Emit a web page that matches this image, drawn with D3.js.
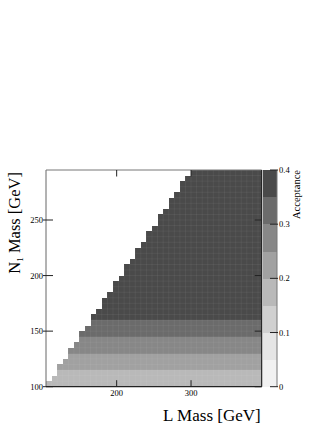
<!DOCTYPE html>
<html>
<head>
<meta charset="utf-8">
<script src="https://cdn.jsdelivr.net/npm/d3@7"></script>
<style>
  body { margin: 0; background: #fff; }
  svg { display: block; }
</style>
</head>
<body>
<div id="chart"></div>
<script>
var width = 332;
var height = 430;

// N1 mass rows (lower bin edge, GeV), 5 GeV wide
var n1Rows = [100, 105, 110, 115, 120, 125, 130, 135, 140, 145, 150, 155, 160, 165, 170, 175, 180,
    185, 190, 195, 200, 205, 210, 215, 220, 225, 230, 235, 240, 245, 250, 255, 260, 265, 270,
    275, 280, 285, 290];
// first L mass with a point in each row (edge of the staircase)
var rowStart = [105, 112.5, 120, 120, 127.5, 135, 135, 142.5, 150, 150, 157.5, 165, 165, 172.5,
    180, 180, 187.5, 195, 195, 202.5, 210, 210, 217.5, 225, 225, 232.5, 240, 240, 247.5, 255,
    255, 262.5, 270, 270, 277.5, 285, 285, 292.5, 300];
// acceptance for each row
var acceptance = [0.17, 0.18, 0.18, 0.21, 0.22, 0.23, 0.26, 0.27, 0.28, 0.31, 0.32, 0.33,
    0.36, 0.36, 0.37, 0.37, 0.37, 0.37, 0.38, 0.38, 0.38, 0.38, 0.38, 0.38, 0.38, 0.38, 0.38,
    0.38, 0.38, 0.38, 0.38, 0.38, 0.38, 0.38, 0.38, 0.38, 0.38, 0.38, 0.38];
var rowHeight = 5;
var lMassMax = 395;

var xTicks = [200, 300];
var yTicks = [100, 150, 200, 250];
var zTicks = [0, 0.1, 0.2, 0.3, 0.4];
var zLevels = [0.05, 0.1, 0.15, 0.2, 0.25, 0.3, 0.35];
var grays = ["#f1f1f1", "#e5e5e5", "#d0d0d0", "#b9b9b9", "#a1a1a1", "#878787", "#6b6b6b", "#4a4a4a"];

var plot = {left: 46, right: 261.7, top: 170, bottom: 386.7};
var bar = {left: 262.5, right: 277};
var serif = "'Liberation Serif', 'Times New Roman', 'DejaVu Serif', serif";

var x = d3.scaleLinear().domain([105, lMassMax]).range([plot.left, plot.right]);
var y = d3.scaleLinear().domain([100, 295]).range([plot.bottom, plot.top]);
var z = d3.scaleLinear().domain([0, 0.4]).range([plot.bottom, plot.top]);
var color = d3.scaleThreshold().domain(zLevels).range(grays);

var svg = d3.select("#chart").append("svg")
    .attr("width", width)
    .attr("height", height)
    .attr("font-family", serif);

var rows = n1Rows.map((m, i) => ({n1: m, start: rowStart[i], acc: acceptance[i]}));

// heat map rows
svg.append("g").selectAll("rect").data(rows)
    .enter().append("rect")
    .attr("x", d => x(d.start))
    .attr("y", d => y(d.n1 + rowHeight))
    .attr("width", d => x(lMassMax) - x(d.start))
    .attr("height", d => y(d.n1) - y(d.n1 + rowHeight) + 0.3)
    .attr("fill", d => color(d.acc))
    .attr("shape-rendering", "crispEdges");

// faint seams between cells
var seams = svg.append("g").attr("stroke", "#fff").attr("stroke-opacity", 0.07).attr("stroke-width", 0.8);
seams.selectAll("line.h").data(rows.slice(1))
    .enter().append("line")
    .attr("x1", d => x(d.start)).attr("x2", plot.right)
    .attr("y1", d => y(d.n1)).attr("y2", d => y(d.n1));
seams.selectAll("line.v").data(d3.range(112.5, lMassMax, 7.5))
    .enter().append("line")
    .attr("x1", d => x(d)).attr("x2", d => x(d))
    .attr("y1", plot.bottom)
    .attr("y2", d => {
        var top = rows.filter(r => r.start <= d);
        return top.length ? y(top[top.length - 1].n1 + rowHeight) : plot.bottom;
    });

// frame
svg.append("line").attr("x1", plot.left).attr("x2", plot.left).attr("y1", plot.top).attr("y2", plot.bottom)
    .attr("stroke", "#666").attr("stroke-width", 1);
svg.append("line").attr("x1", plot.left).attr("x2", plot.right).attr("y1", plot.top).attr("y2", plot.top)
    .attr("stroke", "#777").attr("stroke-width", 1);
svg.append("line").attr("x1", plot.left).attr("x2", plot.right).attr("y1", plot.bottom).attr("y2", plot.bottom)
    .attr("stroke", "#222").attr("stroke-width", 1.2);
svg.append("line").attr("x1", plot.right).attr("x2", plot.right).attr("y1", plot.top).attr("y2", plot.bottom)
    .attr("stroke", "#222").attr("stroke-width", 1.2);

// ticks (inward, ROOT style)
var ticks = svg.append("g").attr("stroke", "#222").attr("stroke-width", 1);
xTicks.forEach(t => {
    ticks.append("line").attr("x1", x(t)).attr("x2", x(t)).attr("y1", plot.bottom).attr("y2", plot.bottom - 6.5);
    ticks.append("line").attr("x1", x(t)).attr("x2", x(t)).attr("y1", plot.top).attr("y2", plot.top + 6.5);
});
yTicks.forEach(t => {
    ticks.append("line").attr("x1", plot.left - 3).attr("x2", plot.left + 7).attr("y1", y(t)).attr("y2", y(t));
    ticks.append("line").attr("x1", plot.right).attr("x2", plot.right - 7).attr("y1", y(t)).attr("y2", y(t));
});

svg.append("g").selectAll("text").data(xTicks)
    .enter().append("text")
    .attr("x", d => x(d)).attr("y", plot.bottom + 9.5)
    .attr("text-anchor", "middle").attr("font-size", 8.5)
    .text(d => d);
svg.append("g").selectAll("text").data(yTicks)
    .enter().append("text")
    .attr("x", plot.left - 3).attr("y", d => y(d) + 3)
    .attr("text-anchor", "end").attr("font-size", 8.5)
    .text(d => d);

// axis titles
svg.append("text")
    .attr("x", plot.right - 1).attr("y", 421)
    .attr("text-anchor", "end").attr("font-size", 17)
    .text("L Mass [GeV]");
var yt = svg.append("text")
    .attr("transform", "translate(20," + (plot.top + 2) + ") rotate(-90)")
    .attr("text-anchor", "end").attr("font-size", 16.5);
yt.append("tspan").text("N");
yt.append("tspan").attr("font-size", 9).attr("dy", 3).text("1");
yt.append("tspan").attr("dy", -3).text(" Mass [GeV]");

// colour bar
var bands = d3.range(grays.length).map(i => ({lo: i === 0 ? 0 : zLevels[i - 1], hi: i < zLevels.length ? zLevels[i] : 0.4}));
svg.append("g").selectAll("rect").data(bands)
    .enter().append("rect")
    .attr("x", bar.left).attr("width", bar.right - bar.left)
    .attr("y", d => z(d.hi)).attr("height", d => z(d.lo) - z(d.hi) + 0.3)
    .attr("fill", d => color((d.lo + d.hi) / 2))
    .attr("shape-rendering", "crispEdges");
svg.append("line").attr("x1", bar.right).attr("x2", bar.right).attr("y1", plot.top).attr("y2", plot.bottom)
    .attr("stroke", "#777").attr("stroke-width", 1);
var zt = svg.append("g");
zt.selectAll("line").data(zTicks)
    .enter().append("line")
    .attr("x1", bar.right - 7).attr("x2", bar.right + 1)
    .attr("y1", d => z(d)).attr("y2", d => z(d))
    .attr("stroke", "#222");
zt.selectAll("text").data(zTicks)
    .enter().append("text")
    .attr("x", bar.right + 2).attr("y", d => z(d) + 3)
    .attr("font-size", 8.5)
    .text(d => d);
svg.append("text")
    .attr("transform", "translate(300," + plot.top + ") rotate(-90)")
    .attr("text-anchor", "end").attr("font-size", 10.5)
    .text("Acceptance");
</script>
</body>
</html>
